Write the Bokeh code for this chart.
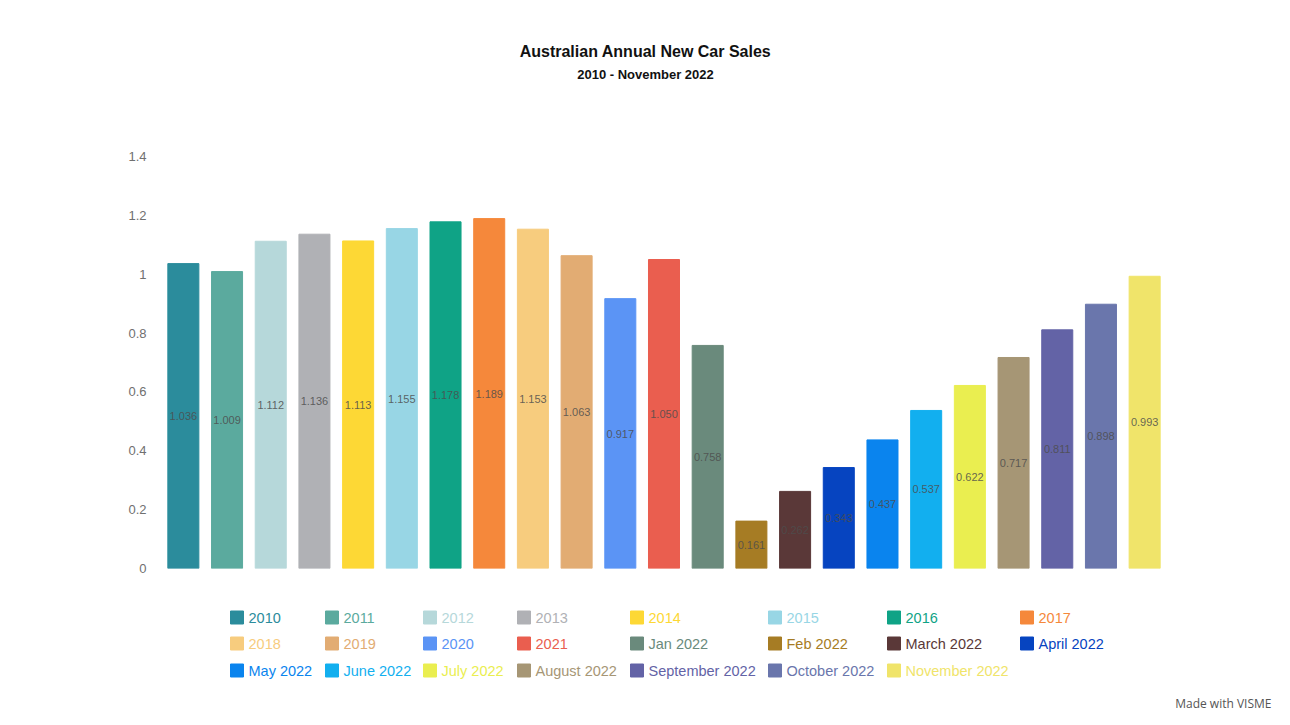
from bokeh.plotting import figure
from bokeh.models import ColumnDataSource, Range1d, FactorRange, FixedTicker, Title
from bokeh.layouts import column
from bokeh.core.properties import value
from bokeh.embed import file_html
from bokeh.resources import INLINE

# ---------------- data ----------------
categories = ["2010", "2011", "2012", "2013", "2014", "2015", "2016", "2017",
              "2018", "2019", "2020", "2021", "Jan 2022", "Feb 2022", "March 2022",
              "April 2022", "May 2022", "June 2022", "July 2022", "August 2022",
              "September 2022", "October 2022", "November 2022"]
sales = [1.036, 1.009, 1.112, 1.136, 1.113, 1.155, 1.178, 1.189, 1.153, 1.063,
         0.917, 1.050, 0.758, 0.161, 0.262, 0.343, 0.437, 0.537, 0.622, 0.717,
         0.811, 0.898, 0.993]
colors = ["#2B8C9C", "#5BAA9E", "#B6D8DA", "#B0B1B5", "#FDD835", "#98D6E5",
          "#0FA386", "#F5883B", "#F7CC7E", "#E2AC73", "#5B94F5", "#EA5E4F",
          "#6A8A7C", "#A67C24", "#5A3838", "#0644C0", "#0A84EE", "#12AFEF",
          "#EAEE50", "#A69675", "#6363A6", "#6A76AC", "#F0E46A"]
y_ticks = [0, 0.2, 0.4, 0.6, 0.8, 1.0, 1.2, 1.4]
y_tick_labels = ["0", "0.2", "0.4", "0.6", "0.8", "1", "1.2", "1.4"]
title_text = "Australian Annual New Car Sales"
subtitle_text = "2010 - November 2022"
credit_text = "Made with VISME"

W = 1282
FL, FR = 161, 1166          # frame left / right (shared by all three panels)
BL, BR = FL, W - FR
FONT = "Liberation Sans"


def panel(height, bottom=0):
    f = figure(width=W, height=height, x_range=Range1d(FL, FR),
               y_range=Range1d(height - bottom, 0), output_backend="svg",
               toolbar_location=None, min_border_left=BL, min_border_right=BR,
               min_border_top=0, min_border_bottom=bottom,
               x_axis_location=None, y_axis_location=None)
    f.grid.visible = False
    f.outline_line_color = None
    return f


# ---------------- title ----------------
t = panel(128)
t.text(x=[645], y=[51], text=[title_text], text_font=value(FONT),
       text_font_size="16px", text_font_style="bold", text_color="#111111",
       text_align="center", text_baseline="middle")
t.text(x=[645], y=[74], text=[subtitle_text], text_font=value(FONT),
       text_font_size="13px", text_font_style="bold", text_color="#111111",
       text_align="center", text_baseline="middle")

# ---------------- chart ----------------
src = ColumnDataSource(dict(
    cat=categories,
    val=sales,
    mid=[v / 2 for v in sales],
    lab=["%.3f" % v for v in sales],
    color=colors,
))
p = figure(width=W, height=462, x_range=FactorRange(*categories),
           y_range=Range1d(0, 1.4), output_backend="svg", toolbar_location=None,
           min_border_left=BL, min_border_right=BR, min_border_top=28,
           min_border_bottom=22, x_axis_location=None)
p.outline_line_color = None
p.grid.visible = False
p.vbar(x="cat", top="val", width=0.71, color="color", source=src)
p.text(x="cat", y="mid", text="lab", source=src, text_font=value(FONT),
       text_font_size="11px", text_color="#4d4d4d", text_alpha=0.85,
       text_align="center", text_baseline="middle")
ya = p.yaxis[0]
ya.ticker = FixedTicker(ticks=y_ticks)
ya.major_label_overrides = {tk: lb for tk, lb in zip(y_ticks, y_tick_labels)}
ya.axis_line_color = None
ya.major_tick_line_color = None
ya.minor_tick_line_color = None
ya.major_label_standoff = 9
ya.major_label_text_font = FONT
ya.major_label_text_font_size = "13px"
ya.major_label_text_color = "#707070"

# ---------------- legend ----------------
col_x = [230, 325, 423, 517, 630, 768, 887, 1020]
row_y = [27, 53, 80]
lx, ly, tx = [], [], []
for i in range(len(categories)):
    r, c = divmod(i, 8)
    lx.append(col_x[c] + 6.5)
    tx.append(col_x[c] + 18)
    ly.append(row_y[r])
lsrc = ColumnDataSource(dict(x=lx, y=ly, tx=tx, name=categories, color=colors))
lg = panel(127, bottom=30)
lg.scatter(x="x", y="y", marker="square", size=13, color="color", source=lsrc)
lg.text(x="tx", y="y", text="name", text_color="color", source=lsrc,
        text_font=value(FONT), text_font_size="14.5px",
        text_align="left", text_baseline="middle")
lg.add_layout(Title(text=credit_text, align="right", offset=-105, standoff=10,
                    text_font="Open Sans", text_font_size="12px",
                    text_font_style="normal", text_color="#555555"), "below")

layout = column(t, p, lg)
open("out.html", "w").write(file_html(layout, INLINE))
